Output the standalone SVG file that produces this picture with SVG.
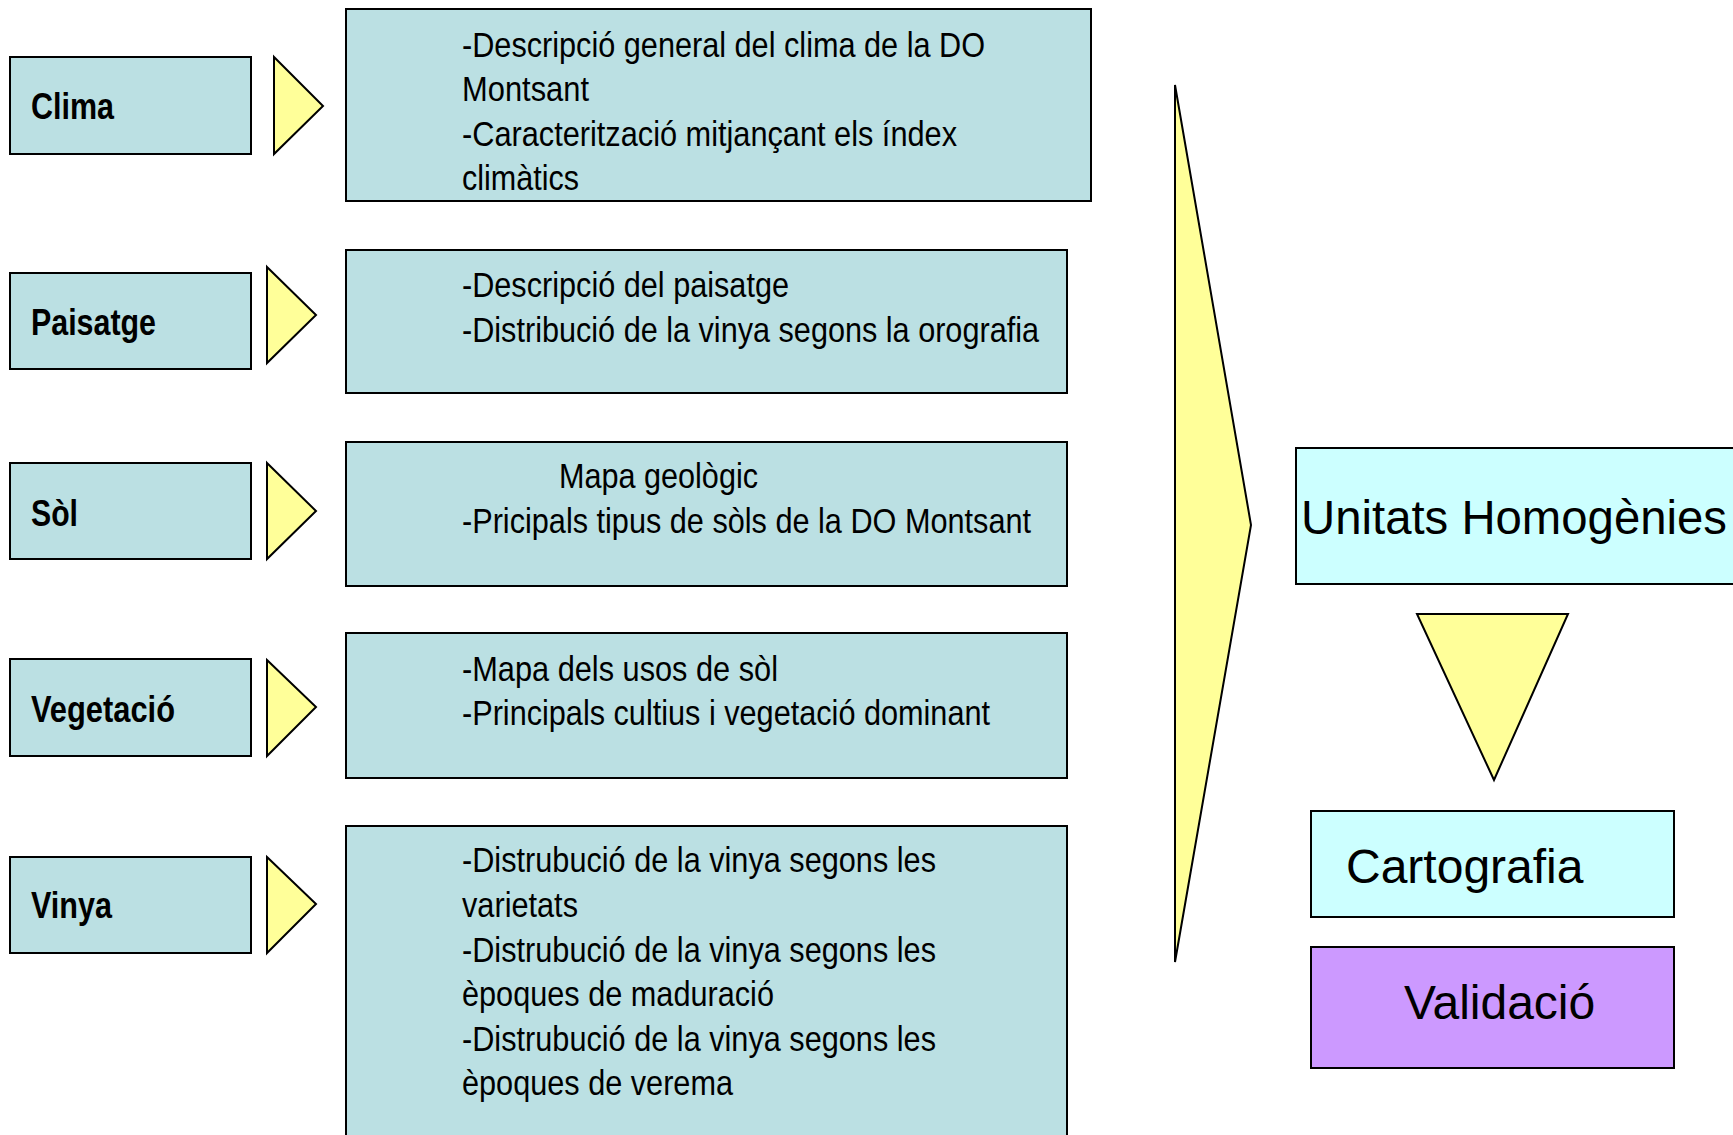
<svg xmlns="http://www.w3.org/2000/svg" width="1733" height="1135" viewBox="0 0 1733 1135">
<style>
.box{fill:#BBE0E3;stroke:#000;stroke-width:2}
.arr{fill:#FFFF99;stroke:#000;stroke-width:2;stroke-linejoin:miter}
.lbl{font-family:"Liberation Sans Narrow","Liberation Sans",Arial,sans-serif;font-weight:bold;font-size:36px;fill:#000}
.txt{font-family:"Liberation Sans Narrow","Liberation Sans",Arial,sans-serif;font-size:35px;fill:#000}
.big{font-family:"Liberation Sans",Arial,sans-serif;font-size:48px;fill:#000}
</style>
<rect width="1733" height="1135" fill="#fff"/>

<g id="clima">
<rect class="box" x="10" y="57" width="241" height="97"/>
<text class="lbl" x="31" y="119" textLength="83" lengthAdjust="spacingAndGlyphs">Clima</text>
</g>
<g id="paisatge">
<rect class="box" x="10" y="273" width="241" height="96"/>
<text class="lbl" x="31" y="335" textLength="125" lengthAdjust="spacingAndGlyphs">Paisatge</text>
</g>
<g id="sol">
<rect class="box" x="10" y="463" width="241" height="96"/>
<text class="lbl" x="31" y="526" textLength="47" lengthAdjust="spacingAndGlyphs">Sòl</text>
</g>
<g id="vegetacio">
<rect class="box" x="10" y="659" width="241" height="97"/>
<text class="lbl" x="31" y="722" textLength="144" lengthAdjust="spacingAndGlyphs">Vegetació</text>
</g>
<g id="vinya">
<rect class="box" x="10" y="857" width="241" height="96"/>
<text class="lbl" x="31" y="918" textLength="81" lengthAdjust="spacingAndGlyphs">Vinya</text>
</g>

<g id="desc-clima">
<rect class="box" x="346" y="9" width="745" height="192"/>
<text class="txt" x="462" y="57" textLength="523" lengthAdjust="spacingAndGlyphs">-Descripció general del clima de la DO</text>
<text class="txt" x="462" y="101" textLength="127" lengthAdjust="spacingAndGlyphs">Montsant</text>
<text class="txt" x="462" y="146" textLength="495" lengthAdjust="spacingAndGlyphs">-Caracterització mitjançant els índex</text>
<text class="txt" x="462" y="190" textLength="117" lengthAdjust="spacingAndGlyphs">climàtics</text>
</g>
<g id="desc-paisatge">
<rect class="box" x="346" y="250" width="721" height="143"/>
<text class="txt" x="462" y="297" textLength="327" lengthAdjust="spacingAndGlyphs">-Descripció del paisatge</text>
<text class="txt" x="462" y="342" textLength="577" lengthAdjust="spacingAndGlyphs">-Distribució de la vinya segons la orografia</text>
</g>
<g id="desc-sol">
<rect class="box" x="346" y="442" width="721" height="144"/>
<text class="txt" x="559" y="488" textLength="199" lengthAdjust="spacingAndGlyphs">Mapa geològic</text>
<text class="txt" x="462" y="533" textLength="569" lengthAdjust="spacingAndGlyphs">-Pricipals tipus de sòls de la DO Montsant</text>
</g>
<g id="desc-vegetacio">
<rect class="box" x="346" y="633" width="721" height="145"/>
<text class="txt" x="462" y="681" textLength="316" lengthAdjust="spacingAndGlyphs">-Mapa dels usos de sòl</text>
<text class="txt" x="462" y="725" textLength="528" lengthAdjust="spacingAndGlyphs">-Principals cultius i vegetació dominant</text>
</g>
<g id="desc-vinya">
<rect class="box" x="346" y="826" width="721" height="320"/>
<text class="txt" x="462" y="872" textLength="474" lengthAdjust="spacingAndGlyphs">-Distrubució de la vinya segons les</text>
<text class="txt" x="462" y="917" textLength="116" lengthAdjust="spacingAndGlyphs">varietats</text>
<text class="txt" x="462" y="962" textLength="474" lengthAdjust="spacingAndGlyphs">-Distrubució de la vinya segons les</text>
<text class="txt" x="462" y="1006" textLength="312" lengthAdjust="spacingAndGlyphs">èpoques de maduració</text>
<text class="txt" x="462" y="1051" textLength="474" lengthAdjust="spacingAndGlyphs">-Distrubució de la vinya segons les</text>
<text class="txt" x="462" y="1095" textLength="271" lengthAdjust="spacingAndGlyphs">èpoques de verema</text>
</g>

<g id="unitats">
<rect x="1296" y="448" width="460" height="136" fill="#CCFFFF" stroke="#000" stroke-width="2"/>
<text class="big" x="1301" y="534" textLength="426" lengthAdjust="spacingAndGlyphs">Unitats Homogènies</text>
</g>
<g id="cartografia">
<rect x="1311" y="811" width="363" height="106" fill="#CCFFFF" stroke="#000" stroke-width="2"/>
<text class="big" x="1346" y="883">Cartografia</text>
</g>
<g id="validacio">
<rect x="1311" y="947" width="363" height="121" fill="#CC99FF" stroke="#000" stroke-width="2"/>
<text class="big" x="1404" y="1019">Validació</text>
</g>

<g id="connectors">
<polygon class="arr" points="274,57 323,106 274,154"/>
<polygon class="arr" points="267,267 316,315 267,363"/>
<polygon class="arr" points="267,463 316,511 267,559"/>
<polygon class="arr" points="267,660 316,707 267,756"/>
<polygon class="arr" points="267,857 316,904 267,953"/>
<polygon class="arr" points="1175,85 1251,525 1175,962"/>
<polygon class="arr" points="1417,614 1568,614 1494,780"/>
</g>
</svg>
